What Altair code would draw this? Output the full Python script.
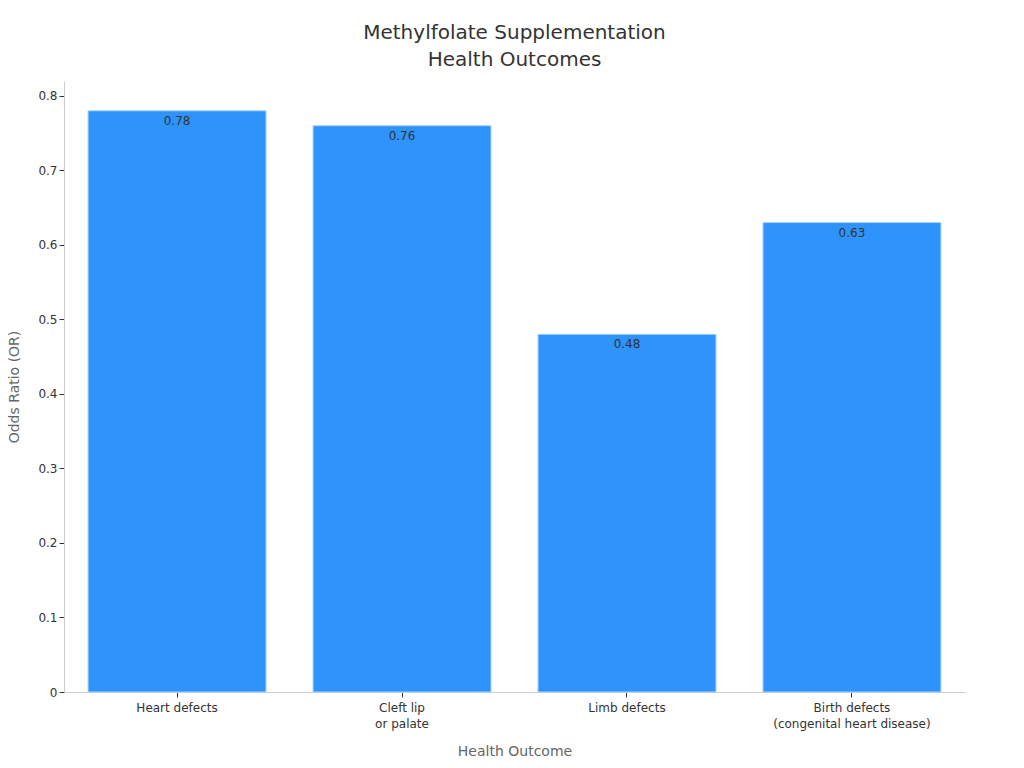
import altair as alt
import pandas as pd

categories = ["Heart defects", "Cleft lip\nor palate", "Limb defects", "Birth defects\n(congenital heart disease)"]
odds_ratios = [0.78, 0.76, 0.48, 0.63]
value_labels = ["0.78", "0.76", "0.48", "0.63"]

df = pd.DataFrame({"cat": categories, "val": odds_ratios, "lab": value_labels})
order = categories

FONT = "DejaVu Sans"

x = alt.X("cat:N", sort=order,
          scale=alt.Scale(paddingInner=0.209, paddingOuter=0.107),
          axis=alt.Axis(title="Health Outcome", labelAngle=0, labelExpr="split(datum.label, '\\n')",
                        labelFontSize=12, labelColor="#333333", titleFontSize=14,
                        titleColor="#666666", titleFontWeight="normal", titlePadding=15,
                        domainColor="#cccccc", tickColor="#333333", labelPadding=5,
                        labelLineHeight=16))
y = alt.Y("val:Q", scale=alt.Scale(domain=[0, 0.82], nice=False),
          axis=alt.Axis(title="Odds Ratio (OR)", values=[0, 0.1, 0.2, 0.3, 0.4, 0.5, 0.6, 0.7, 0.8],
                        format=".1~f", labelFontSize=12, labelColor="#333333", titleFontSize=14,
                        titleColor="#666666", titleFontWeight="normal", titlePadding=16,
                        domainColor="#cccccc", tickColor="#333333", grid=False))

bars = alt.Chart(df).mark_bar(color="#2e93fa", stroke="#a8d2fc", strokeWidth=1).encode(x=x, y=y)
text = alt.Chart(df).mark_text(baseline="top", dy=5, fontSize=12, color="#333333", font=FONT).encode(
    x=alt.X("cat:N", sort=order), y="val:Q", text="lab:N")

chart = alt.layer(bars, text).properties(
    width=901, height=611,
    title=alt.TitleParams(["Methylfolate Supplementation", "Health Outcomes"], fontSize=20,
                          fontWeight="normal", color="#333333", font=FONT, anchor="middle",
                          offset=11, lineHeight=27),
    autosize=alt.AutoSizeParams(type="none"),
    padding={"left": 56, "top": 73, "right": 10, "bottom": 70},
).configure(font=FONT).configure_view(stroke=None).configure_axis(labelFont=FONT, titleFont=FONT)

chart.save("out.html", embed_options={"renderer": "svg", "actions": False})
